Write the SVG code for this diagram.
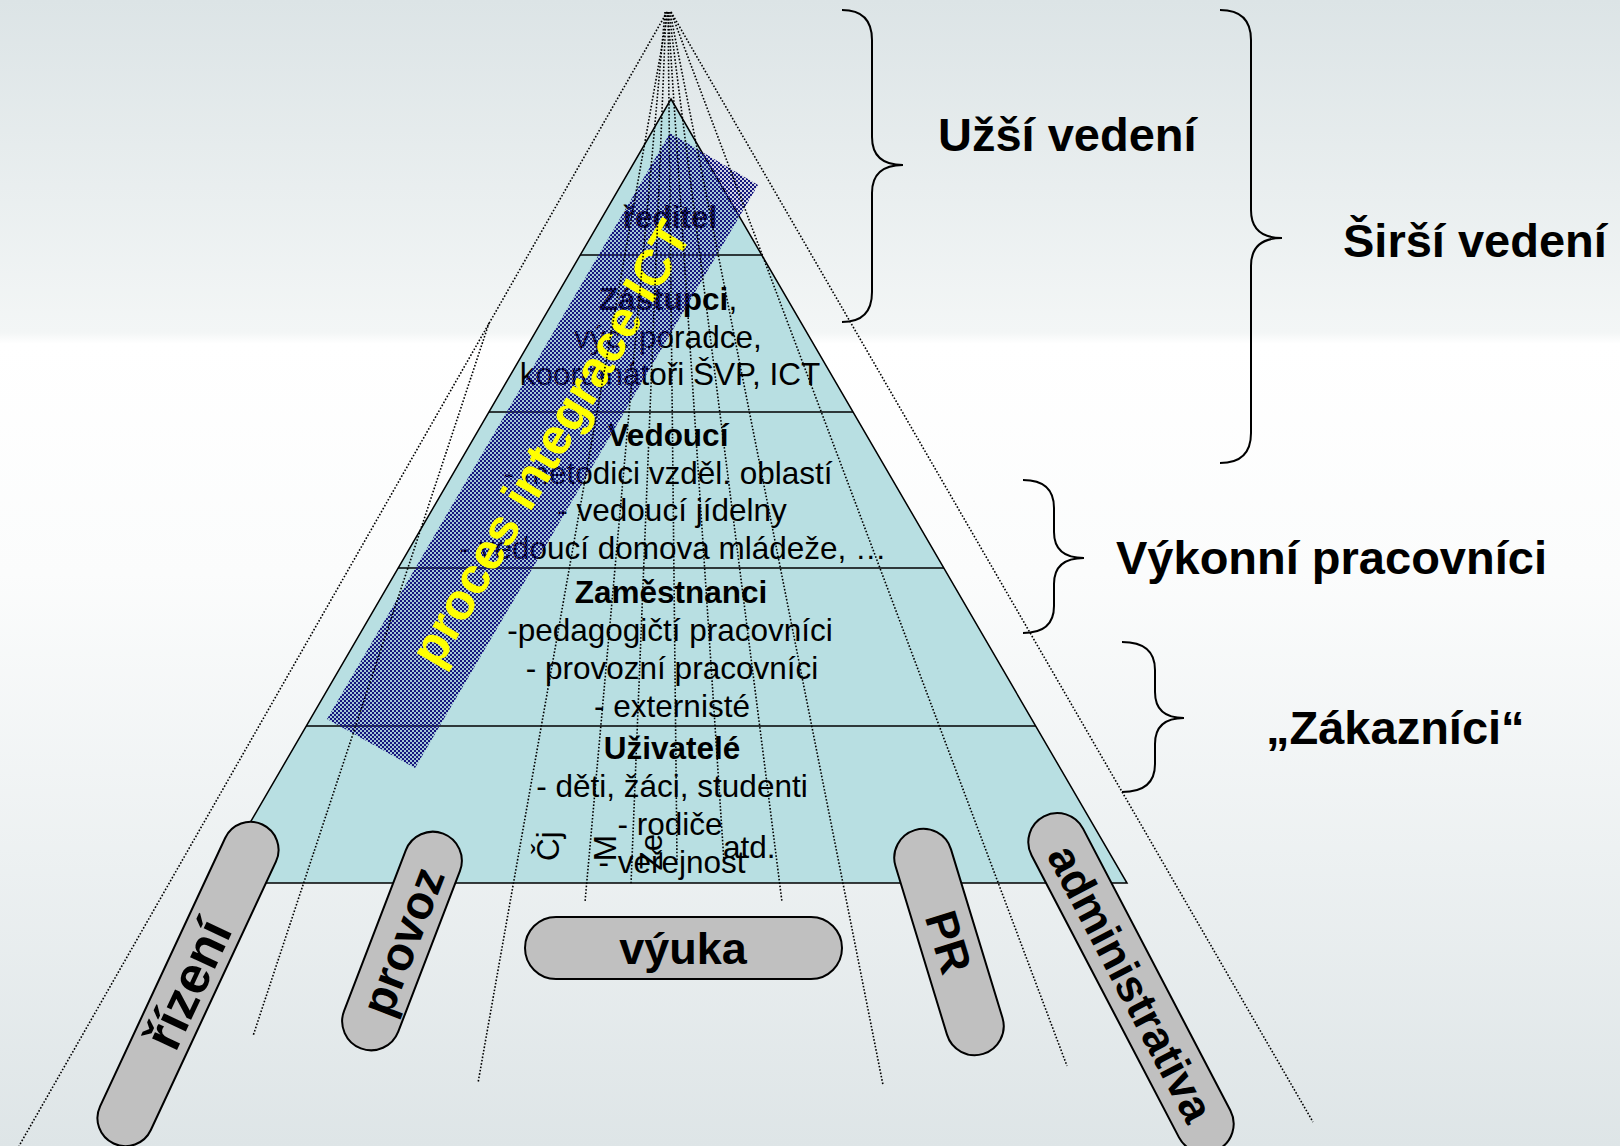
<svg xmlns="http://www.w3.org/2000/svg" width="1620" height="1146" viewBox="0 0 1620 1146">
<defs>
<linearGradient id="bg" x1="0" y1="0" x2="0" y2="1">
<stop offset="0" stop-color="#dce4e6"/>
<stop offset="0.29" stop-color="#f3f6f6"/>
<stop offset="0.30" stop-color="#ffffff"/>
<stop offset="0.5" stop-color="#fbfcfc"/>
<stop offset="1" stop-color="#dee5e7"/>
</linearGradient>
<pattern id="chk" width="4" height="4" patternUnits="userSpaceOnUse">
<rect x="0" y="0" width="4" height="4" fill="#16167e" fill-opacity="0.12"/>
<rect x="0" y="0" width="2" height="2" fill="#16167e"/>
<rect x="2" y="2" width="2" height="2" fill="#16167e"/>
</pattern>
<style>
text{font-family:"Liberation Sans",Arial,sans-serif;fill:#000}
.t{font-size:31.5px;text-anchor:middle}
.b{font-weight:bold}
.lab{font-size:47px;font-weight:bold}
.pill{fill:#c0c0c0;stroke:#000;stroke-width:2}
.pt{font-size:45px;font-weight:bold;text-anchor:middle}
.tier{stroke:#000;stroke-width:1.5}
.dot{fill:none;stroke:#000;stroke-width:1.6;stroke-dasharray:1.6 1.8}
.brace{fill:none;stroke:#000;stroke-width:2}
</style>
</defs>
<rect width="1620" height="1146" fill="url(#bg)"/>

<g id="pyramid">
<polygon points="671,99 1127,883 215,883" fill="#b8dfe2" stroke="#000" stroke-width="1.5"/>
<line class="tier" x1="580" y1="255" x2="762" y2="255"/>
<line class="tier" x1="489" y1="412" x2="853" y2="412"/>
<line class="tier" x1="398" y1="568" x2="944" y2="568"/>
<line class="tier" x1="306" y1="726" x2="1036" y2="726"/>
</g>

<g id="tier-reditel"><text class="t b" x="670" y="228">ředitel</text></g>
<g id="tier-zastupci">
<text class="t" x="668" y="310"><tspan class="b">Zástupci</tspan>,</text>
<text class="t" x="668" y="348">výc. poradce,</text>
<text class="t" x="670" y="385">koordinátoři ŠVP, ICT</text>
</g>
<g id="tier-vedouci">
<text class="t b" x="668" y="446">Vedoucí</text>
<text class="t" x="668" y="484">- metodici vzděl. oblastí</text>
<text class="t" x="672" y="521">- vedoucí jídelny</text>
<text class="t" x="673" y="559">- vedoucí domova mládeže, …</text>
</g>
<g id="tier-zamestnanci">
<text class="t b" x="671" y="603">Zaměstnanci</text>
<text class="t" x="670" y="641">-pedagogičtí pracovníci</text>
<text class="t" x="672" y="679">- provozní pracovníci</text>
<text class="t" x="672" y="717">- externisté</text>
</g>
<g id="tier-uzivatele">
<text class="t b" x="672" y="759">Uživatelé</text>
<text class="t" x="672" y="797">- děti, žáci, studenti</text>
<text class="t" x="670" y="835">- rodiče</text>
<text class="t" x="672" y="873">- veřejnost</text>
</g>
<g id="subjects">
<text class="t" transform="translate(548,846) rotate(-90)" x="0" y="11">Čj</text>
<text class="t" transform="translate(605,848) rotate(-90)" x="0" y="11">M</text>
<text class="t" transform="translate(651,852) rotate(-90)" x="0" y="11">Ze</text>
<text style="font-size:31.5px" x="723" y="858">atd.</text>
</g>

<g id="proces-integrace-ict">
<polygon points="670,133 758,185 415,768 327,719" fill="url(#chk)"/>
<text transform="translate(550,443) rotate(-59.7)" x="0" y="18" style="font-size:51px;font-weight:bold;text-anchor:middle;fill:#ffff00">proces integrace ICT</text>
</g>

<g id="connectors">
<path class="dot" d="M667,12 L19,1146"/>
<path class="dot" d="M489,323 L253,1036"/>
<path class="dot" d="M668,12 L478,1083"/>
<path class="dot" d="M665,12 L585,902"/>
<path class="dot" d="M666,12 L631,884"/>
<path class="dot" d="M668,12 L677,860"/>
<path class="dot" d="M668,12 L724,862"/>
<path class="dot" d="M669,12 L782,902"/>
<path class="dot" d="M670,12 L883,1085"/>
<path class="dot" d="M671,12 L1067,1066"/>
<path class="dot" d="M671,12 L1313,1122"/>
</g>

<g id="rizeni" transform="translate(188,984) rotate(25)">
<rect class="pill" x="-28" y="-176" width="56" height="352" rx="28"/>
<text class="pt" transform="rotate(-90)" x="0" y="18" style="font-size:52px">řízení</text>
</g>
<g id="provoz" transform="translate(402,941) rotate(21)">
<rect class="pill" x="-29" y="-115" width="58" height="230" rx="29"/>
<text class="pt" transform="rotate(-90)" x="0" y="17" style="font-size:47px">provoz</text>
</g>
<g id="vyuka">
<rect class="pill" x="525" y="917" width="317" height="62" rx="31"/>
<text class="pt" x="683" y="964">výuka</text>
</g>
<g id="pr" transform="translate(949,942) rotate(-17)">
<rect class="pill" x="-29" y="-117" width="58" height="234" rx="29"/>
<text class="pt" transform="rotate(90)" x="0" y="16">PR</text>
</g>
<g id="administrativa" transform="translate(1131,983) rotate(-27.6)">
<rect class="pill" x="-29" y="-188" width="58" height="376" rx="29"/>
<text class="pt" transform="rotate(90)" x="0" y="16">administrativa</text>
</g>

<g id="uzsi-vedeni">
<path class="brace" d="M842,10 Q872,10 872,40 L872,137 Q872,165 903,165 Q872,165 872,193 L872,292 Q872,322 842,322"/>
<text class="lab" x="938" y="151">Užší vedení</text>
</g>
<g id="sirsi-vedeni">
<path class="brace" d="M1220,10 Q1251,10 1251,40 L1251,210 Q1251,238 1282,238 Q1251,238 1251,266 L1251,433 Q1251,463 1220,463"/>
<text class="lab" x="1343" y="257">Širší vedení</text>
</g>
<g id="vykonni-pracovnici">
<path class="brace" d="M1023,480 Q1054,480 1054,508 L1054,532 Q1054,558 1084,558 Q1054,558 1054,584 L1054,606 Q1054,633 1023,633"/>
<text class="lab" x="1116" y="574">Výkonní pracovníci</text>
</g>
<g id="zakaznici">
<path class="brace" d="M1122,642 Q1155,642 1155,670 L1155,692 Q1155,718 1184,718 Q1155,718 1155,744 L1155,764 Q1155,792 1122,792"/>
<text class="lab" x="1266" y="744">„Zákazníci“</text>
</g>
</svg>
